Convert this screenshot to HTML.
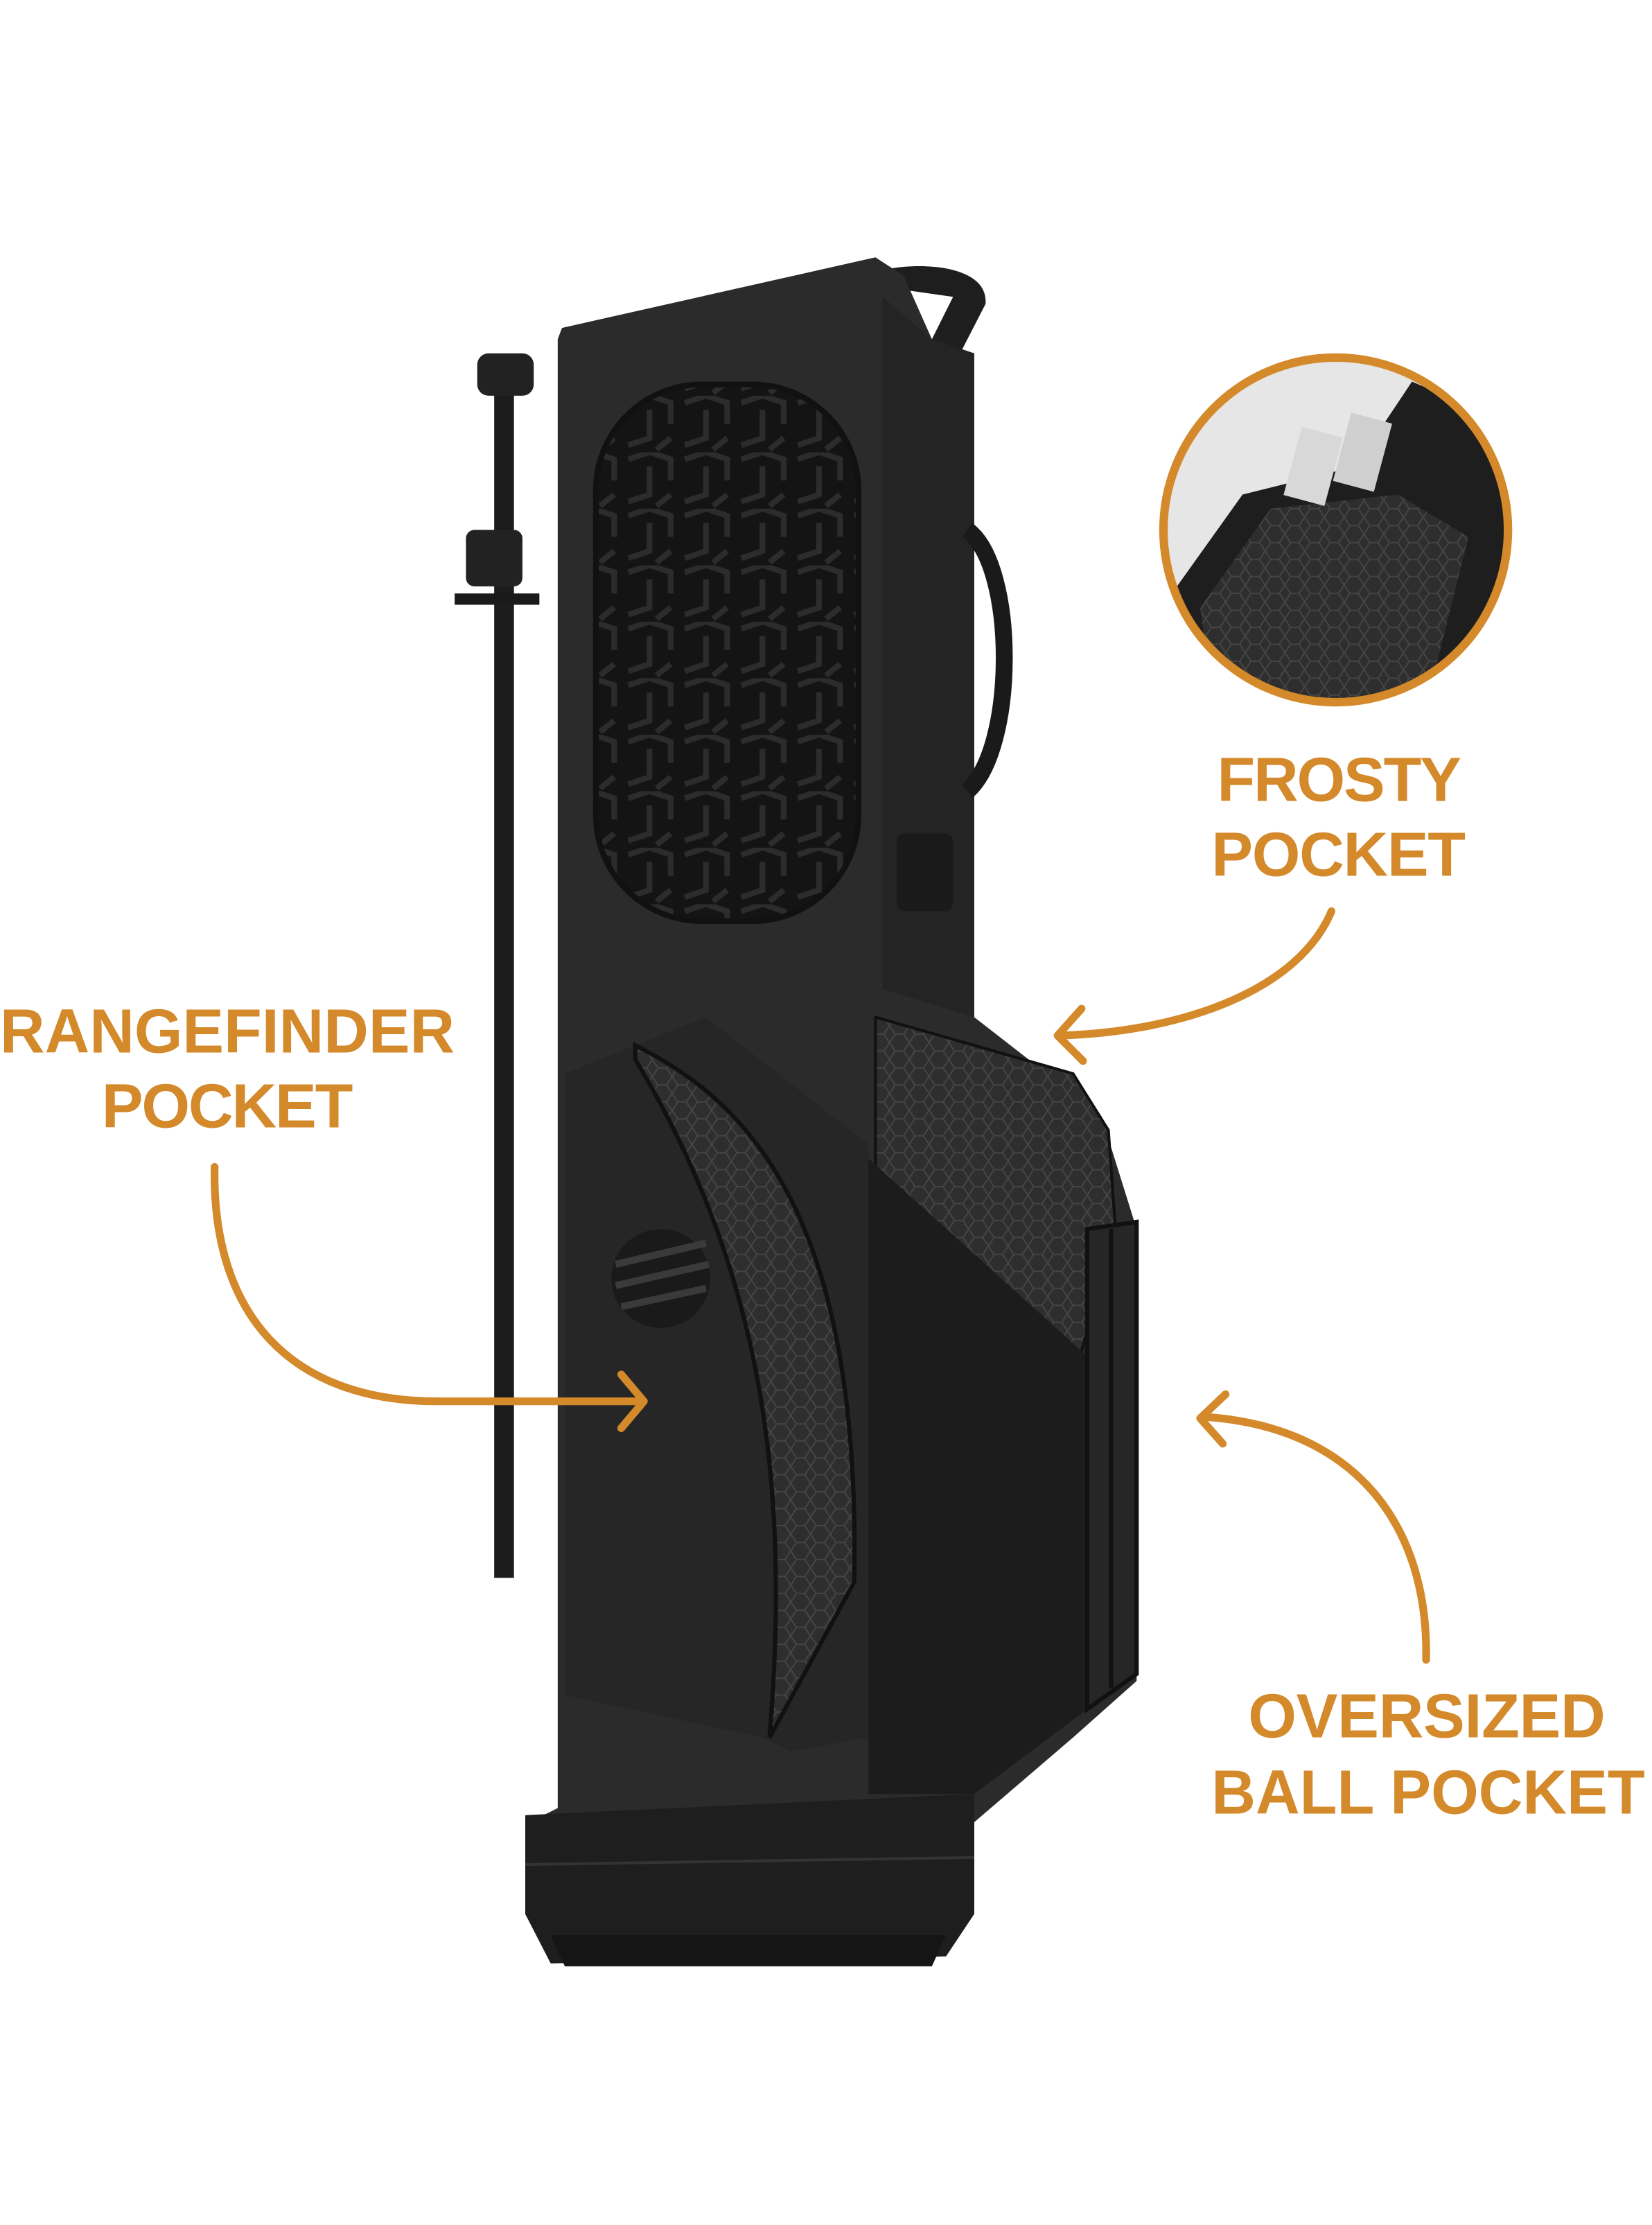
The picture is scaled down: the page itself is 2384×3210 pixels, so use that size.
<!DOCTYPE html>
<html><head><meta charset="utf-8"><style>
html,body{margin:0;padding:0;background:#fff;}
svg{display:block;}
</style></head><body>
<svg width="2384" height="3210" viewBox="0 0 1170 1575" xmlns="http://www.w3.org/2000/svg">
<rect width="1170" height="1575" fill="#fff"/>
<defs>
<clipPath id="cc"><circle cx="946" cy="375" r="120"/></clipPath>
<pattern id="hex" width="14" height="12" patternUnits="userSpaceOnUse">
<rect width="14" height="12" fill="#2e2e2e"/>
<path d="M0 6 L4 0 L10 0 L14 6 L10 12 L4 12 Z" fill="none" stroke="#444" stroke-width="1"/>
</pattern>
<pattern id="maze" width="40" height="40" patternUnits="userSpaceOnUse">
<rect width="40" height="40" fill="#141414"/>
<path d="M5 5 L20 0 L35 5 L35 20 M20 10 L20 30 L5 35 M35 30 L25 38" fill="none" stroke="#2c2c2c" stroke-width="4"/>
</pattern>
</defs>

<rect x="350" y="255" width="14" height="862" fill="#1c1c1c"/>
<rect x="338" y="250" width="40" height="30" rx="8" fill="#222"/>
<rect x="330" y="375" width="40" height="40" rx="6" fill="#222"/>
<rect x="322" y="420" width="60" height="8" fill="#1a1a1a"/>

<path d="M630 190 C660 185 700 190 698 215 L680 250 L660 240 L675 210 L640 205 Z" fill="#1e1e1e"/>

<path d="M398 232 L620 182 L640 195 L660 240 L690 250 L690 720 L780 790 L805 870 L805 1190 L760 1230 L690 1290 L690 1350 L375 1350 L375 1290 L395 1280 L395 240 Z" fill="#2b2b2b"/>
<path d="M625 210 L660 240 L690 250 L690 720 L625 700 Z" fill="#242424"/>
<path d="M685 375 C720 400 720 530 685 560" fill="none" stroke="#1a1a1a" stroke-width="12"/>
<rect x="635" y="590" width="40" height="55" rx="6" fill="#1a1a1a"/>
<rect x="422" y="272" width="186" height="380" rx="75" fill="url(#maze)" stroke="#111" stroke-width="4"/>

<path d="M400 760 L500 720 L615 810 L615 1230 L560 1240 L540 1230 L400 1200 Z" fill="#262626"/>
<path d="M450 740 C530 780 610 860 605 1120 L545 1230 C560 1050 540 900 450 750 Z" fill="url(#hex)" stroke="#111" stroke-width="3"/>
<circle cx="468" cy="905" r="35" fill="#1a1a1a"/>
<path d="M436 895 L500 880 M436 910 L502 895 M440 925 L500 912" stroke="#3a3a3a" stroke-width="5"/>

<path d="M620 720 L760 760 L785 800 L790 870 L765 960 L620 830 Z" fill="url(#hex)" stroke="#111" stroke-width="2"/>
<path d="M615 820 L770 960 L770 1210 L690 1270 L615 1270 Z" fill="#1c1c1c"/>
<path d="M770 870 L805 865 L805 1185 L770 1210 Z" fill="#262626" stroke="#111" stroke-width="3"/>
<line x1="787" y1="870" x2="787" y2="1195" stroke="#111" stroke-width="3"/>

<path d="M372 1285 L690 1270 L690 1355 L670 1385 L390 1390 L372 1355 Z" fill="#1e1e1e"/>
<line x1="372" y1="1320" x2="690" y2="1315" stroke="#333" stroke-width="2"/>
<path d="M390 1370 L670 1370 L660 1392 L400 1392 Z" fill="#151515"/>

<g clip-path="url(#cc)">
<rect x="820" y="250" width="260" height="260" fill="#e6e6e6"/>
<path d="M830 420 L880 350 L960 330 L1000 270 L1070 300 L1080 510 L830 510 Z" fill="#1e1e1e"/>
<path d="M850 430 L900 360 L990 350 L1040 380 L1010 500 L860 500 Z" fill="url(#hex)"/>
<rect x="915" y="305" width="30" height="50" fill="#d8d8d8" transform="rotate(15 930 330)"/>
<rect x="950" y="295" width="30" height="50" fill="#cfcfcf" transform="rotate(15 965 320)"/>
</g>
<circle cx="946" cy="375" r="122" fill="none" stroke="#d4892a" stroke-width="6"/>

<g font-family="Liberation Sans, sans-serif" font-weight="bold" font-size="44" fill="#d4892a">
<text x="862" y="567" textLength="173" lengthAdjust="spacing">FROSTY</text>
<text x="858" y="620" textLength="180" lengthAdjust="spacing">POCKET</text>
<text x="0" y="745" textLength="322" lengthAdjust="spacingAndGlyphs">RANGEFINDER</text>
<text x="72" y="798" textLength="178" lengthAdjust="spacing">POCKET</text>
<text x="884" y="1230" textLength="253" lengthAdjust="spacing">OVERSIZED</text>
<text x="858" y="1284" textLength="307" lengthAdjust="spacingAndGlyphs">BALL POCKET</text>
</g>

<g fill="none" stroke="#d4892a" stroke-width="5.5" stroke-linecap="round" stroke-linejoin="round">
<path d="M943 645 C920 700 840 730 752 733"/>
<path d="M766 714 L749 733 L767 751"/>
<path d="M152 826 C150 930 205 992 310 992 L452 992"/>
<path d="M440 973 L456 992 L440 1011"/>
<path d="M1010 1175 C1012 1080 960 1010 853 1003"/>
<path d="M868 987 L850 1004 L866 1022"/>
</g>
</svg>
</body></html>
